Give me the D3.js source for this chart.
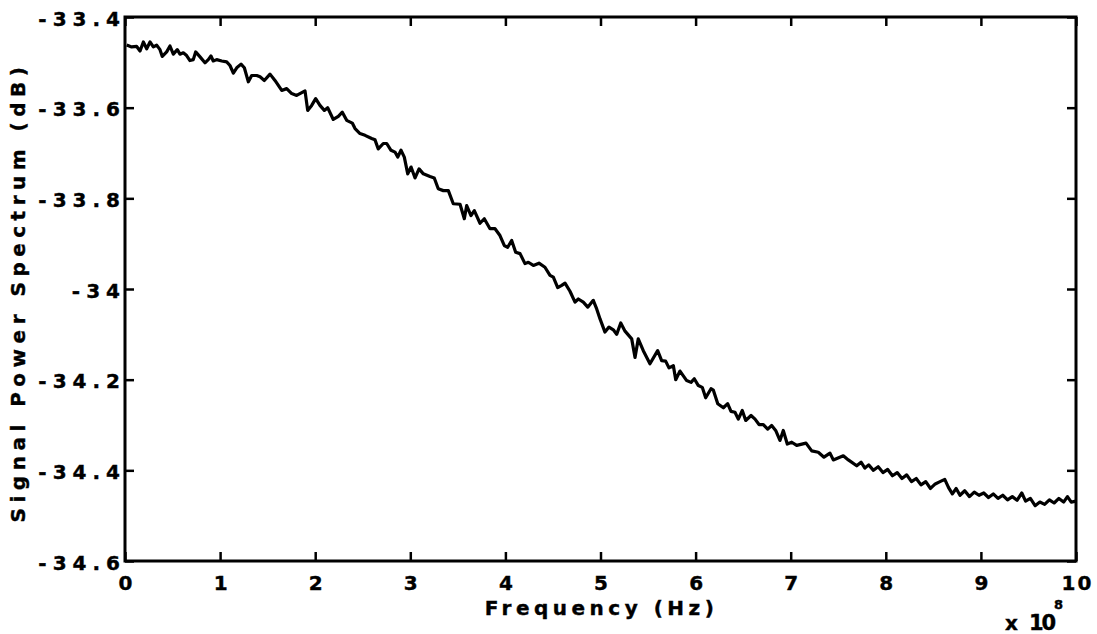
<!DOCTYPE html>
<html>
<head>
    <title>Signal Power Spectrum</title>
    <script src="https://cdn.jsdelivr.net/npm/d3@7"></script>
    <style>
        body { margin: 0; background: #fff; }
        text { font-family: "DejaVu Sans", sans-serif; font-weight: bold; fill: #000; stroke: #000; stroke-width: 0.4; }
    </style>
</head>
<body>
    <div id="chart"></div>
    <script>
        // frequency in units of 1e8 Hz
        const freq = [
            0.018, 0.070, 0.123, 0.158, 0.193, 0.228, 0.263, 0.298, 0.333, 0.368, 0.392, 0.438, 0.473, 0.508, 0.550,
            0.578, 0.613, 0.648, 0.683, 0.718, 0.743, 0.789, 0.841, 0.876, 0.904, 0.928, 0.964, 1.017, 1.069, 1.104,
            1.139, 1.175, 1.220, 1.255, 1.297, 1.332, 1.385, 1.420, 1.465, 1.525, 1.577, 1.648, 1.700, 1.753, 1.805,
            1.893, 1.921, 1.963, 2.005, 2.050, 2.096, 2.131, 2.190, 2.243, 2.285, 2.331, 2.390, 2.419, 2.471, 2.524,
            2.594, 2.629, 2.663, 2.716, 2.752, 2.797, 2.839, 2.868, 2.902, 2.937, 2.973, 3.008, 3.050, 3.092, 3.137,
            3.207, 3.252, 3.294, 3.347, 3.400, 3.452, 3.523, 3.568, 3.593, 3.638, 3.673, 3.733, 3.778, 3.838, 3.891,
            3.943, 3.988, 4.024, 4.066, 4.108, 4.154, 4.206, 4.241, 4.294, 4.353, 4.416, 4.469, 4.504, 4.550, 4.592,
            4.627, 4.679, 4.732, 4.767, 4.819, 4.866, 4.924, 4.960, 4.995, 5.047, 5.089, 5.135, 5.170, 5.213, 5.258,
            5.328, 5.363, 5.397, 5.450, 5.520, 5.601, 5.643, 5.685, 5.720, 5.766, 5.791, 5.836, 5.906, 5.952, 5.986,
            6.029, 6.070, 6.106, 6.162, 6.186, 6.233, 6.292, 6.337, 6.372, 6.414, 6.449, 6.491, 6.527, 6.583, 6.625,
            6.667, 6.712, 6.758, 6.800, 6.842, 6.887, 6.922, 6.964, 7.011, 7.063, 7.161, 7.221, 7.290, 7.350, 7.413,
            7.448, 7.553, 7.606, 7.694, 7.740, 7.780, 7.820, 7.870, 7.920, 7.970, 8.020, 8.070, 8.120, 8.170, 8.220,
            8.270, 8.320, 8.370, 8.420, 8.470, 8.520, 8.570, 8.620, 8.660, 8.700, 8.740, 8.780, 8.830, 8.880, 8.930,
            8.980, 9.030, 9.080, 9.130, 9.180, 9.230, 9.280, 9.330, 9.380, 9.430, 9.470, 9.520, 9.570, 9.620, 9.670,
            9.720, 9.770, 9.820, 9.870, 9.910, 9.950, 10.00
        ];
        // signal power spectrum in dB
        const power = [
            -33.462, -33.466, -33.465, -33.475, -33.455, -33.470, -33.455, -33.466, -33.462, -33.472, -33.487, -33.477, -33.464, -33.482, -33.472,
            -33.482, -33.479, -33.485, -33.496, -33.494, -33.477, -33.488, -33.501, -33.494, -33.486, -33.497, -33.494, -33.497, -33.499, -33.507,
            -33.524, -33.512, -33.504, -33.512, -33.543, -33.529, -33.529, -33.532, -33.540, -33.526, -33.540, -33.562, -33.558, -33.569, -33.573,
            -33.563, -33.606, -33.595, -33.580, -33.595, -33.606, -33.600, -33.626, -33.619, -33.610, -33.628, -33.634, -33.646, -33.657, -33.661,
            -33.668, -33.671, -33.691, -33.679, -33.679, -33.694, -33.698, -33.709, -33.694, -33.709, -33.746, -33.731, -33.755, -33.735, -33.746,
            -33.752, -33.755, -33.779, -33.783, -33.783, -33.812, -33.813, -33.845, -33.816, -33.838, -33.827, -33.855, -33.845, -33.867, -33.867,
            -33.882, -33.904, -33.908, -33.893, -33.919, -33.922, -33.944, -33.941, -33.948, -33.943, -33.952, -33.970, -33.974, -33.997, -33.992,
            -33.987, -34.005, -34.029, -34.022, -34.029, -34.040, -34.025, -34.044, -34.066, -34.095, -34.084, -34.090, -34.100, -34.075, -34.093,
            -34.110, -34.151, -34.110, -34.136, -34.165, -34.136, -34.158, -34.159, -34.174, -34.169, -34.200, -34.181, -34.202, -34.206, -34.198,
            -34.213, -34.217, -34.240, -34.220, -34.223, -34.253, -34.262, -34.253, -34.270, -34.272, -34.287, -34.268, -34.290, -34.279, -34.287,
            -34.299, -34.299, -34.309, -34.301, -34.312, -34.334, -34.312, -34.342, -34.338, -34.345, -34.340, -34.357, -34.360, -34.371, -34.362,
            -34.377, -34.368, -34.377, -34.390, -34.382, -34.395, -34.388, -34.400, -34.392, -34.405, -34.398, -34.412, -34.405, -34.418, -34.410,
            -34.425, -34.418, -34.432, -34.425, -34.440, -34.430, -34.425, -34.420, -34.438, -34.452, -34.440, -34.455, -34.445, -34.458, -34.448,
            -34.455, -34.450, -34.460, -34.452, -34.462, -34.455, -34.465, -34.458, -34.466, -34.450, -34.468, -34.462, -34.478, -34.470, -34.475,
            -34.465, -34.472, -34.462, -34.470, -34.458, -34.470, -34.468
        ];
        const xTicks = [0, 1, 2, 3, 4, 5, 6, 7, 8, 9, 10];
        const yTicks = [-33.4, -33.6, -33.8, -34, -34.2, -34.4, -34.6];
        const yTickLabels = ["-33.4", "-33.6", "-33.8", "-34", "-34.2", "-34.4", "-34.6"];

        const data = freq.map((f, i) => ({ f: f, p: power[i] }));

        // chart size and margins
        const margin = { top: 17, right: 21, bottom: 73, left: 125 };
        const width = 1097 - margin.left - margin.right;
        const height = 634 - margin.top - margin.bottom;
        const tickLen = 9;
        const spacing = 6;

        const x = d3.scaleLinear().domain([0, 10]).range([0, width]);
        const y = d3.scaleLinear().domain([-34.6, -33.4]).range([height, 0]);

        const svg = d3.select("#chart")
            .append("svg")
            .attr("width", 1097)
            .attr("height", 634)
            .append("g")
            .attr("transform", "translate(" + margin.left + "," + margin.top + ")");

        // axes, ticks point inward
        const left = svg.append("g")
            .call(d3.axisLeft(y).tickValues(yTicks).tickFormat((d, i) => yTickLabels[i])
                .tickSize(-tickLen).tickSizeOuter(0).tickPadding(5 - spacing));
        const bottom = svg.append("g")
            .attr("transform", "translate(0," + height + ")")
            .call(d3.axisBottom(x).tickValues(xTicks).tickFormat(d => d)
                .tickSize(-tickLen).tickSizeOuter(0).tickPadding(15));
        svg.append("g")
            .call(d3.axisTop(x).tickValues(xTicks).tickFormat("").tickSize(-tickLen).tickSizeOuter(0));
        svg.append("g")
            .attr("transform", "translate(" + width + ",0)")
            .call(d3.axisRight(y).tickValues(yTicks).tickFormat("").tickSize(-tickLen).tickSizeOuter(0));

        svg.selectAll(".domain").remove();
        svg.selectAll(".tick line").attr("stroke", "#000").attr("stroke-width", 2.5);
        svg.selectAll(".tick text")
            .attr("font-family", "DejaVu Sans")
            .attr("font-weight", "bold")
            .attr("font-size", 20);
        left.selectAll(".tick text")
            .attr("letter-spacing", spacing)
            .attr("dy", "0.4em");
        bottom.selectAll(".tick text")
            .attr("letter-spacing", 2)
            .attr("dx", 1);

        // frame
        svg.append("rect")
            .attr("width", width)
            .attr("height", height)
            .attr("fill", "none")
            .attr("stroke", "#000")
            .attr("stroke-width", 3);

        // the spectrum line
        const line = d3.line()
            .x(d => x(d.f))
            .y(d => y(d.p));

        svg.append("path")
            .datum(data)
            .attr("fill", "none")
            .attr("stroke", "#000")
            .attr("stroke-width", 3.2)
            .attr("stroke-linejoin", "round")
            .attr("d", line);

        // axis titles
        svg.append("text")
            .attr("x", width / 2 + 1)
            .attr("y", height + 54)
            .attr("text-anchor", "middle")
            .attr("font-size", 20)
            .attr("letter-spacing", 4.5)
            .text("Frequency (Hz)");

        svg.append("text")
            .attr("transform", "translate(" + (-100) + "," + (height / 2 + 3) + ") rotate(-90)")
            .attr("text-anchor", "middle")
            .attr("font-size", 20)
            .attr("letter-spacing", 5.5)
            .text("Signal Power Spectrum (dB)");

        // exponent note
        svg.append("text")
            .attr("x", 880)
            .attr("y", height + 69)
            .attr("font-size", 20)
            .text("x");
        svg.append("text")
            .attr("x", 904)
            .attr("y", height + 69)
            .attr("font-size", 21)
            .attr("letter-spacing", -2)
            .text("10");
        svg.append("text")
            .attr("x", 929)
            .attr("y", height + 48)
            .attr("font-size", 13)
            .text("8");
    </script>
</body>
</html>
